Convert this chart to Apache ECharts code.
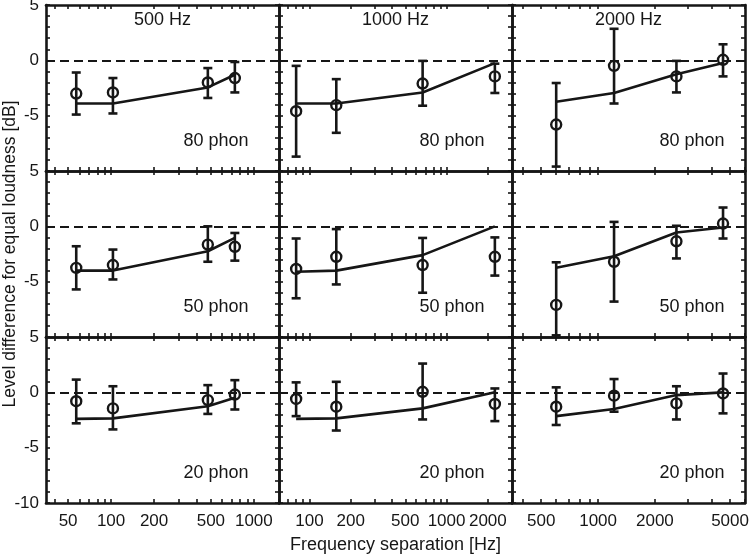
<!DOCTYPE html>
<html>
<head>
<meta charset="utf-8">
<script src="https://cdn.jsdelivr.net/npm/echarts@6/dist/echarts.min.js"></script>
<style>
  html, body { margin: 0; padding: 0; background: #fff; }
  #chart { width: 750px; height: 556px; }
</style>
</head>
<body>
<div id="chart"></div>
<script>
// column titles (probe frequency) and row labels (loudness level)
const probes = ['500 Hz', '1000 Hz', '2000 Hz'];
const levels = ['80 phon', '50 phon', '20 phon'];

// x extent of each column [Hz] and its tick labels
const xRanges = [[35, 1500], [60, 3000], [350, 6000]];
const xLabels = [[50, 100, 200, 500, 1000], [100, 200, 500, 1000, 2000], [500, 1000, 2000, 5000]];

// frequency separation of the four conditions, per column [Hz]
const sepHz = [[57, 103, 476, 736], [80, 157, 669, 2250], [600, 1215, 2600, 4590]];

// measured means, error bar ends and model line, one row per level, one array per column [dB]
const mean80 = [[-3.0, -2.9, -2.0, -1.6], [-4.6, -4.05, -2.1, -1.45], [-5.8, -0.5, -1.45, 0.05]];
const low80 = [[-4.9, -4.8, -3.4, -2.9], [-8.7, -6.55, -4.1, -2.95], [-9.6, -3.9, -2.9, -1.45]];
const high80 = [[-1.1, -1.6, -0.7, -0.15], [-0.5, -1.7, -0.05, -0.3], [-2.05, 2.85, -0.05, 1.45]];
const model80 = [[-3.9, -3.9, -2.45, -1.3], [-3.9, -3.9, -2.9, -0.25], [-3.75, -2.95, -1.25, -0.25]];

const mean50 = [[-3.75, -3.5, -1.65, -1.85], [-3.85, -2.75, -3.5, -2.75], [-7.1, -3.2, -1.35, 0.25]];
const low50 = [[-5.7, -4.8, -3.2, -3.1], [-6.5, -5.25, -6.0, -4.45], [-9.85, -6.8, -2.9, -1.1]];
const high50 = [[-1.8, -2.1, 0.0, -0.6], [-1.1, -0.25, -1.05, -1.0], [-3.25, 0.4, 0.05, 1.7]];
const model50 = [[-4.0, -4.0, -2.25, -1.05], [-4.1, -4.0, -2.6, 0], [-3.75, -2.7, -0.55, -0.1]];

const mean20 = [[-0.8, -1.45, -0.7, -0.2], [-0.6, -1.3, 0.05, -1.05], [-1.3, -0.3, -1.0, -0.1]];
const low20 = [[-2.8, -3.35, -1.95, -1.55], [-2.15, -3.45, -2.45, -2.6], [-2.95, -1.75, -2.45, -1.9]];
const high20 = [[1.15, 0.55, 0.65, 1.1], [0.9, 0.95, 2.6, 0.35], [0.45, 1.2, 0.55, 1.7]];
const model20 = [[-2.4, -2.35, -1.25, -0.5], [-2.4, -2.35, -1.45, 0], [-2.15, -1.5, -0.25, 0]];

const yTicks = [5, 0, -5];

const rows = [
  { mean: mean80, low: low80, high: high80, model: model80 },
  { mean: mean50, low: low50, high: high50, model: model50 },
  { mean: mean20, low: low20, high: high20, model: model20 }
];

// layout
const ink = '#161616';
const font = "'Liberation Sans', Arial, Helvetica, sans-serif";
const left0 = 46, top0 = 5, panelW = 233, panelH = 166;
const phonX = [170, 173, 180];

const lg = Math.log10;

// minor ticks 1..9 x 10^k inside a range (log axis)
function logTicks(range) {
  const out = [];
  for (let k = 1; k <= 4; k++) {
    for (let m = 1; m <= 9; m++) {
      const v = m * Math.pow(10, k);
      if (v >= range[0] && v <= range[1]) out.push(lg(v));
    }
  }
  return out;
}

const grids = [], xAxes = [], yAxes = [], series = [], graphics = [];

rows.forEach((row, r) => {
  for (let c = 0; c < 3; c++) {
    const gi = r * 3 + c;
    const gl = left0 + c * panelW, gt = top0 + r * panelH;
    grids.push({ left: gl, top: gt, width: panelW, height: panelH, outerBoundsMode: 'none' });

    const xMin = lg(xRanges[c][0]), xMax = lg(xRanges[c][1]);
    const ticks = logTicks(xRanges[c]);
    const frame = { show: true, onZero: false, lineStyle: { color: ink, width: 2.6 } };
    const tick = { show: true, inside: true, length: 4, lineStyle: { color: ink, width: 1.6 } };

    ['bottom', 'top'].forEach(pos => {
      xAxes.push({
        type: 'value', gridIndex: gi, position: pos, min: xMin, max: xMax,
        axisLine: frame,
        axisTick: Object.assign({ customValues: ticks }, tick),
        splitLine: { show: false },
        axisLabel: {
          show: pos === 'bottom' && r === 2,
          customValues: xLabels[c].map(lg),
          formatter: v => String(Math.round(Math.pow(10, v))),
          margin: 10, color: ink, fontFamily: font, fontSize: 17
        }
      });
    });
    ['left', 'right'].forEach(pos => {
      yAxes.push({
        type: 'value', gridIndex: gi, position: pos, min: -10, max: 5, interval: 1,
        axisLine: frame,
        axisTick: tick,
        splitLine: { show: false },
        axisLabel: {
          show: pos === 'left' && c === 0,
          customValues: r === 2 ? yTicks.concat([-10]) : yTicks,
          margin: 7, color: ink, fontFamily: font, fontSize: 17
        }
      });
    });

    const xs = sepHz[c].map(lg);
    const ax = { xAxisIndex: gi * 2, yAxisIndex: gi * 2 };

    series.push(Object.assign({
      type: 'custom',
      data: xs.map((x, i) => [x, row.low[c][i], row.high[c][i]]),
      encode: { x: 0, y: [1, 2] },
      renderItem: (params, api) => {
        const x = api.value(0);
        const a = api.coord([x, api.value(2)]);
        const b = api.coord([x, api.value(1)]);
        const w = 4.5;
        const st = { stroke: ink, lineWidth: 2.6 };
        return {
          type: 'group', children: [
            { type: 'line', shape: { x1: a[0], y1: a[1], x2: b[0], y2: b[1] }, style: st },
            { type: 'line', shape: { x1: a[0] - w, y1: a[1], x2: a[0] + w, y2: a[1] }, style: st },
            { type: 'line', shape: { x1: b[0] - w, y1: b[1], x2: b[0] + w, y2: b[1] }, style: st }
          ]
        };
      },
      z: 3
    }, ax));

    series.push(Object.assign({
      type: 'line',
      data: xs.map((x, i) => [x, row.model[c][i]]),
      showSymbol: false,
      lineStyle: { color: ink, width: 2.6 },
      markLine: {
        silent: true, symbol: 'none', label: { show: false },
        lineStyle: { color: ink, width: 2.2, type: [9, 5] },
        data: [{ yAxis: 0 }]
      },
      z: 2
    }, ax));

    series.push(Object.assign({
      type: 'scatter',
      data: xs.map((x, i) => [x, row.mean[c][i]]),
      symbol: 'circle', symbolSize: 10,
      itemStyle: { color: 'rgba(255,255,255,0)', borderColor: ink, borderWidth: 2.4, opacity: 1 },
      z: 4
    }, ax));

    graphics.push({
      type: 'text', x: gl + phonX[c], y: gt + 136,
      style: { text: levels[r], fill: ink, font: '18px ' + font, align: 'center', verticalAlign: 'middle' }
    });
    if (r === 0) {
      graphics.push({
        type: 'text', x: gl + panelW / 2, y: gt + 15,
        style: { text: probes[c], fill: ink, font: '18px ' + font, align: 'center', verticalAlign: 'middle' }
      });
    }
  }
});

graphics.push({
  type: 'text', x: left0 + 1.5 * panelW, y: 545,
  style: { text: 'Frequency separation [Hz]', fill: ink, font: '18px ' + font, align: 'center', verticalAlign: 'middle' }
});
graphics.push({
  type: 'text', x: 10, y: top0 + 1.5 * panelH, rotation: Math.PI / 2,
  style: { text: 'Level difference for equal loudness [dB]', fill: ink, font: '17.5px ' + font, align: 'center', verticalAlign: 'middle' }
});

const chart = echarts.init(document.getElementById('chart'), null, { renderer: 'canvas' });
chart.setOption({
  animation: false,
  backgroundColor: '#fff',
  grid: grids,
  xAxis: xAxes,
  yAxis: yAxes,
  series: series,
  graphic: graphics
});
</script>
</body>
</html>
